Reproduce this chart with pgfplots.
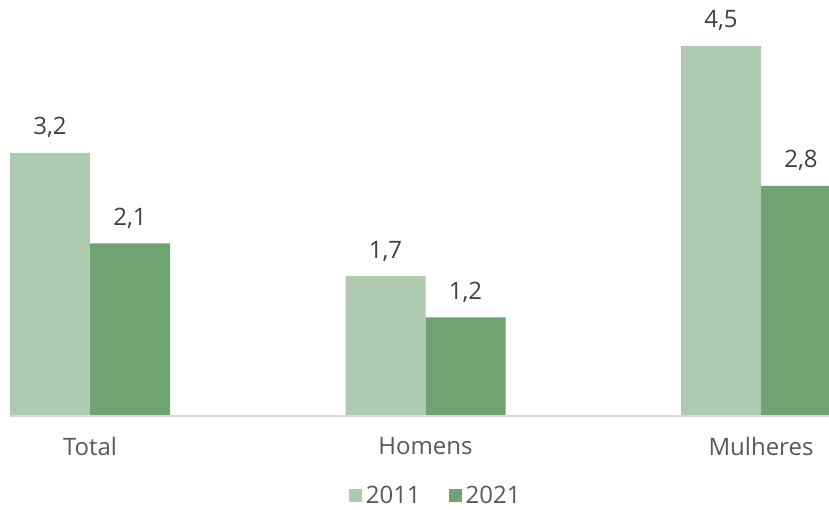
\documentclass[border=0pt]{standalone}
\usepackage{pgfplots}
\pgfplotsset{compat=1.18}
\usepackage{fontspec}
\setmainfont{Open Sans}
\definecolor{lightg}{HTML}{AFCBAF}
\definecolor{darkg}{HTML}{70A374}
\definecolor{txt}{HTML}{404040}
\definecolor{cat}{HTML}{595959}
\definecolor{base}{HTML}{D9D9D9}
\begin{document}
\begin{tikzpicture}
\begin{axis}[
  scale only axis,
  width=409.5pt, height=208pt,
  xmin=-0.2385, xmax=2.2027,
  ymin=0, ymax=5.06,
  ybar=0pt, bar width=40pt,
  axis line style={draw=none},
  axis x line*=bottom,
  hide y axis,
  xtick={0,1,2},
  xticklabels={Total,Homens,Mulheres},
  major tick length=0pt,
  xticklabel style={font=\fontsize{12}{14}\selectfont, text=cat, yshift=-7pt},
  /pgf/number format/assume math mode=true,
  /pgf/number format/use comma,
  /pgf/number format/fixed,
  /pgf/number format/precision=1,
  /pgf/number format/fixed zerofill,
  nodes near coords,
  every node near coord/.append style={font=\fontsize{12}{14}\selectfont, text=txt, yshift=4pt},
  legend columns=2,
  legend style={at={(0.521,-0.193)}, anchor=center, draw=none, fill=none,
    font=\fontsize{12}{14}\selectfont, text=cat,
    /tikz/every even column/.append style={column sep=12pt}},
  legend image code/.code={\fill[#1] (0pt,-3pt) rectangle (6.5pt,3.5pt);},
]
\addplot[fill=lightg, draw=none] coordinates {(0,3.2) (1,1.7) (2,4.5)};
\addplot[fill=darkg, draw=none] coordinates {(0,2.1) (1,1.2) (2,2.8)};
\legend{2011,2021}
\draw[base, line width=0.75pt] (axis cs:-0.2385,0) -- (axis cs:2.2027,0);
\end{axis}
\pgfresetboundingbox
\useasboundingbox (-5pt,-46.5pt) rectangle (409.5pt,208pt);
\end{tikzpicture}
\end{document}
